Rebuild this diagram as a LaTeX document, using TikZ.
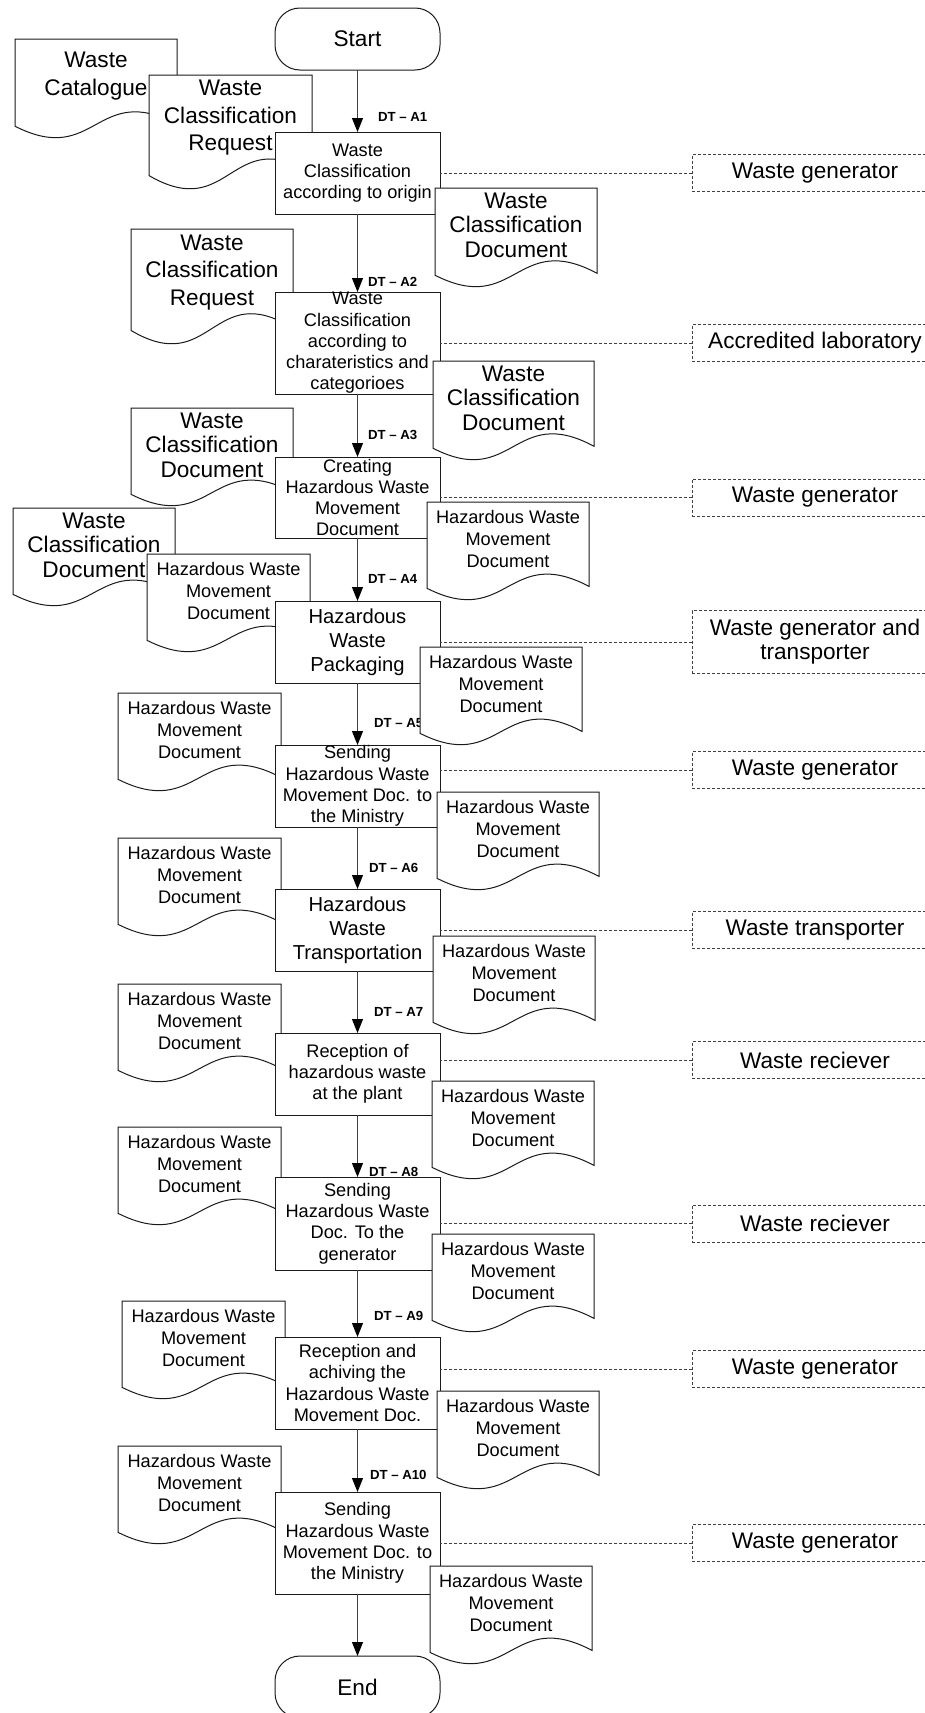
\documentclass[tikz,border=0pt]{standalone}
\usepackage{fontspec}
\setmainfont{Liberation Sans}
\usetikzlibrary{arrows.meta,positioning}
\definecolor{lineGray}{HTML}{404040}
\definecolor{boxBlack}{HTML}{1a1a1a}
\definecolor{roleGray}{HTML}{404040}

% document symbol: style, name, left x, top y, width, height, text
\newcommand{\wastedoc}[7]{%
  \begin{scope}[shift={(#3,#4)}]
    \draw[docline] (0,0) -- (#5,0) -- (#5,0.87*#6)
      .. controls (0.5*#5,0.43*#6) and (0.5*#5,1.31*#6) .. (0,0.89*#6) -- cycle;
    \node[#1] (#2) at (0.5*#5,0.38*#6) {#7};
  \end{scope}}

\begin{document}
\begin{tikzpicture}[
    x=1pt, y=-1pt,
    node distance=62pt,
    proc/.style={rectangle, draw=boxBlack, fill=white, line width=1pt, outer sep=0pt, minimum width=165pt, minimum height=82pt, inner xsep=2pt, inner ysep=0pt, align=center, font=\fontsize{18.2}{21.2}\selectfont},
    bigproc/.style={proc, font=\fontsize{20.2}{24.2}\selectfont},
    term/.style={rectangle, rounded corners=25pt, draw=boxBlack, fill=white, line width=1pt, outer sep=0pt, minimum width=165pt, minimum height=62pt, font=\fontsize{22.6}{26}\selectfont},
    docline/.style={draw=boxBlack, fill=white, line width=1pt},
    docbig/.style={align=center, inner sep=0pt, font=\fontsize{22.6}{24.5}\selectfont},
    docloose/.style={docbig, font=\fontsize{22.6}{27.5}\selectfont},
    docsmall/.style={align=center, inner sep=0pt, font=\fontsize{18.2}{21.8}\selectfont},
    role/.style={rectangle, draw=roleGray, dash pattern=on 3pt off 2pt, line width=0.9pt, outer sep=0pt, minimum width=246pt, minimum height=37pt, align=center, font=\fontsize{22.6}{24}\selectfont},
    link/.style={draw=roleGray, dash pattern=on 3pt off 2pt, line width=0.9pt},
    arrow/.style={-{Triangle[length=14pt,width=11pt,color=black]}, draw=lineGray, line width=1pt},
    dtlabel/.style={anchor=west, inner sep=0pt, font=\fontsize{13.2}{15}\selectfont\bfseries}
]
\useasboundingbox (0,0) rectangle (925,1713);

% input documents
\wastedoc{docloose}{catalogue}{15}{39}{162}{98}{Waste\\Catalogue}
\wastedoc{docloose}{request1}{149}{75}{163}{113}{Waste\\Classification\\Request}
\wastedoc{docloose}{request2}{131}{229}{162}{114}{Waste\\Classification\\Request}
\wastedoc{docbig}{classin3}{131}{408}{162}{97}{Waste\\Classification\\Document}
\wastedoc{docbig}{classin4}{13}{508}{162}{97}{Waste\\Classification\\Document}
\foreach \n/\x/\y in {4/147/554, 5/118/693, 6/118/838, 7/118/984, 8/118/1127, 9/122/1301, 10/118/1446}
  \wastedoc{docsmall}{hwmin\n}{\x}{\y}{163}{97}{Hazardous Waste\\Movement\\Document};

% main flow
\node[term] (start) at (357.5,39) {Start};
\node[proc, below=of start] (origin) {Waste\\Classification\\according to origin};
\node[proc, minimum height=102pt, below=78pt of origin] (lab) {Waste\\Classification\\according to\\charateristics and\\categorioes};
\node[proc, minimum height=81pt, below=63pt of lab] (create) {Creating\\Hazardous Waste\\Movement\\Document};
\node[bigproc, below=63pt of create] (pack) {Hazardous\\Waste\\Packaging};
\node[proc, below=of pack] (send) {Sending\\Hazardous Waste\\Movement Doc. to\\the Ministry};
\node[bigproc, below=of send] (transp) {Hazardous\\Waste\\Transportation};
\node[proc, below=of transp] (recv) {Reception of\\hazardous waste\\at the plant};
\node[proc, minimum height=93pt, below=of recv] (back) {Sending\\Hazardous Waste\\Doc. To the\\generator};
\node[proc, minimum height=92pt, below=67pt of back] (archive) {Reception and\\achiving the\\Hazardous Waste\\Movement Doc.};
\node[proc, minimum height=102pt, below=63pt of archive] (ministry) {Sending\\Hazardous Waste\\Movement Doc. to\\the Ministry};
\node[term, below=of ministry] (end) {End};

\draw[arrow] (start) -- node[dtlabel, pos=0.76, xshift=20pt] {DT – A1} (origin);
\draw[arrow] (origin) -- node[dtlabel, pos=0.87, xshift=10pt] {DT – A2} (lab);
\draw[arrow] (lab) -- node[dtlabel, pos=0.65, xshift=10pt] {DT – A3} (create);
\draw[arrow] (create) -- node[dtlabel, pos=0.65, xshift=10pt] {DT – A4} (pack);
\draw[arrow] (pack) -- node[dtlabel, pos=0.65, xshift=16pt] {DT – A5} (send);
\draw[arrow] (send) -- node[dtlabel, pos=0.66, xshift=11pt] {DT – A6} (transp);
\draw[arrow] (transp) -- node[dtlabel, pos=0.66, xshift=16pt] {DT – A7} (recv);
\draw[arrow] (recv) -- node[dtlabel, pos=0.92, xshift=11pt] {DT – A8} (back);
\draw[arrow] (back) -- node[dtlabel, pos=0.69, xshift=16pt] {DT – A9} (archive);
\draw[arrow] (archive) -- node[dtlabel, pos=0.73, xshift=12pt] {DT – A10} (ministry);
\draw[arrow] (ministry) -- (end);

% output documents
\wastedoc{docbig}{classout1}{435}{188}{162}{98}{Waste\\Classification\\Document}
\wastedoc{docbig}{classout2}{433}{361}{161}{98}{Waste\\Classification\\Document}
\foreach \n/\x/\y in {3/427/502, 4/420/647, 5/437/792, 6/433/936, 7/432/1081, 8/432/1234, 9/437/1391, 10/430/1566}
  \wastedoc{docsmall}{hwmout\n}{\x}{\y}{162}{97}{Hazardous Waste\\Movement\\Document};

% responsible parties
\node[role, right=252pt of origin] (gen1) {Waste generator};
\node[role, right=252pt of lab] (accr) {Accredited laboratory};
\node[role, right=252pt of create] (gen2) {Waste generator};
\node[role, minimum height=63pt, right=252pt of pack] (gentr) {Waste generator and\\transporter};
\node[role, right=252pt of send, yshift=16pt] (gen3) {Waste generator};
\node[role, right=252pt of transp] (transpr) {Waste transporter};
\node[role, right=252pt of recv, yshift=14pt] (rec1) {Waste reciever};
\node[role, right=252pt of back] (rec2) {Waste reciever};
\node[role, right=252pt of archive, yshift=14pt] (gen4) {Waste generator};
\node[role, right=252pt of ministry] (gen5) {Waste generator};

\draw[link] (gen1.west) -- (gen1.west -| origin.east);
\draw[link] (accr.west) -- (accr.west -| lab.east);
\draw[link] (gen2.west) -- (gen2.west -| create.east);
\draw[link] (gentr.west) -- (gentr.west -| pack.east);
\draw[link] (gen3.west) -- (gen3.west -| send.east);
\draw[link] (transpr.west) -- (transpr.west -| transp.east);
\draw[link] (rec1.west) -- (rec1.west -| recv.east);
\draw[link] (rec2.west) -- (rec2.west -| back.east);
\draw[link] (gen4.west) -- (gen4.west -| archive.east);
\draw[link] (gen5.west) -- (gen5.west -| ministry.east);
\end{tikzpicture}
\end{document}
